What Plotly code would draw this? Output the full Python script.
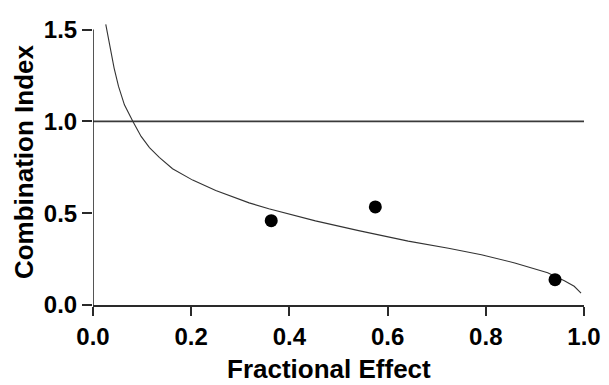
import plotly.graph_objects as go

# Data
curve_fa = [0.026, 0.034, 0.043, 0.052, 0.064, 0.081, 0.098, 0.115, 0.135, 0.162, 0.203,
            0.250, 0.298, 0.318, 0.358, 0.385, 0.453, 0.541, 0.642, 0.724,
            0.791, 0.859, 0.926, 0.960, 0.980, 0.994]
curve_ci = [1.528, 1.410, 1.290, 1.190, 1.090, 1.000, 0.918, 0.857, 0.804, 0.742, 0.680,
            0.624, 0.574, 0.556, 0.524, 0.505, 0.458, 0.405, 0.348, 0.309,
            0.274, 0.229, 0.176, 0.132, 0.102, 0.065]
point_fa = [0.363, 0.575, 0.941]
point_ci = [0.459, 0.534, 0.138]
reference_ci = 1.0
x_ticks = [0.0, 0.2, 0.4, 0.6, 0.8, 1.0]
x_ticklabels = ["0.0", "0.2", "0.4", "0.6", "0.8", "1.0"]
y_ticks = [0.0, 0.5, 1.0, 1.5]
y_ticklabels = ["0.0", "0.5", "1.0", "1.5"]

FONT = "Liberation Sans, Arial, sans-serif"
AXC = "#2a2a2a"

fig = go.Figure()
fig.add_trace(go.Scatter(x=curve_fa, y=curve_ci, mode="lines",
                         line=dict(color="#333333", width=1.1),
                         hoverinfo="skip", showlegend=False))
fig.add_trace(go.Scatter(x=point_fa, y=point_ci, mode="markers",
                         marker=dict(color="black", size=13),
                         showlegend=False))

fig.add_shape(type="line", xref="x", yref="y", x0=0, x1=1, y0=reference_ci, y1=reference_ci,
              line=dict(color="#3a3a3a", width=1.6), layer="below")
# y axis line (stops at 1.5 while curve extends slightly above)
fig.add_shape(type="line", xref="x", yref="y", x0=0, x1=0, y0=0, y1=y_ticks[-1],
              line=dict(color=AXC, width=1.6))

# page body has an 8px margin, so the figure is sized to the visible area
fig.update_layout(
    width=601, height=377,
    margin=dict(l=85, r=23, t=8, b=80),
    paper_bgcolor="white", plot_bgcolor="white",
    font=dict(family=FONT, color="black"),
    xaxis=dict(range=[0, 1], tickvals=x_ticks, ticktext=x_ticklabels,
               showline=True, linecolor=AXC, linewidth=1.6,
               ticks="outside", ticklen=9, tickwidth=1.6, tickcolor=AXC,
               showgrid=False, zeroline=False,
               tickfont=dict(family=FONT, size=24, color="black", weight="bold")),
    yaxis=dict(range=[0, 1.53], tickvals=y_ticks, ticktext=y_ticklabels,
               showline=False,
               ticks="outside", ticklen=10, tickwidth=1.6, tickcolor=AXC,
               showgrid=False, zeroline=False,
               tickfont=dict(family=FONT, size=24, color="black", weight="bold")),
    annotations=[
        dict(text="<b>Fractional Effect</b>", xref="paper", yref="paper",
             x=(330 - 93.3) / 493, y=-(370.6 - 305) / 289, xanchor="center", yanchor="middle",
             showarrow=False, font=dict(family=FONT, size=26, color="black")),
        dict(text="<b>Combination Index</b>", xref="paper", yref="paper",
             x=-(93.3 - 23.5) / 493, y=(305 - 157.5) / 289, xanchor="center", yanchor="middle",
             textangle=-90, showarrow=False, font=dict(family=FONT, size=26, color="black")),
    ],
)

fig.write_html("out.html")
